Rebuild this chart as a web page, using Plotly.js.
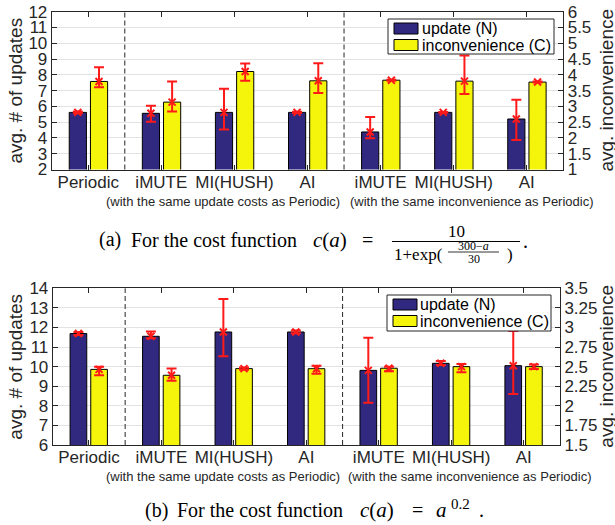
<!DOCTYPE html>
<html>
<head>
<meta charset="utf-8">
<script src="https://cdn.plot.ly/plotly-3.0.1.min.js"></script>
<style>html,body{margin:0;padding:0;background:#fff;} #chart{width:615px;height:525px;}</style>
</head>
<body>
<div id="chart"></div>
<script>
// ---------- data ----------
const categories = ['Periodic', 'iMUTE', 'MI(HUSH)', 'AI', 'iMUTE', 'MI(HUSH)', 'AI'];
const groups = ['base', 'cost', 'cost', 'cost', 'inc', 'inc', 'inc'];

// (a) sigmoid cost function
const a_update     = [5.62, 5.56, 5.62, 5.62, 4.38, 5.62, 5.20];
const a_update_hi  = [5.67, 6.04, 7.12, 5.66, 5.33, 5.65, 6.42];
const a_update_lo  = [5.57, 5.03, 4.53, 5.58, 3.98, 5.59, 3.87];
const a_incon      = [3.79, 3.135, 4.105, 3.81, 3.83, 3.80, 3.77];
const a_incon_hi   = [4.24, 3.79, 4.36, 4.37, 3.845, 4.61, 3.785];
const a_incon_lo   = [3.61, 2.84, 3.81, 3.42, 3.815, 3.39, 3.755];

// (b) power cost function
const b_update     = [11.69, 11.55, 11.77, 11.77, 9.81, 10.17, 10.05];
const b_update_hi  = [11.77, 11.79, 13.46, 11.84, 11.48, 10.29, 11.82];
const b_update_lo  = [11.62, 11.45, 10.53, 11.70, 8.16, 10.09, 8.60];
const b_incon      = [2.465, 2.39, 2.475, 2.474, 2.48, 2.50, 2.50];
const b_incon_hi   = [2.50, 2.475, 2.49, 2.51, 2.50, 2.534, 2.526];
const b_incon_lo   = [2.39, 2.32, 2.46, 2.41, 2.44, 2.428, 2.47];

const seriesNames = ['update (N)', 'inconvenience (C)'];
const subtitles = ['(with the same update costs as Periodic)', '(with the same inconvenience as Periodic)'];

// ---------- style ----------
const BLUE = '#31297f', YELLOW = '#f5f50c', RED = '#ff1a1a', INK = '#262626';
const W = 615, H = 525;
const idx = categories.map((_, i) => i);
const dividers = [];
for (let i = 1; i < groups.length; i++) if (groups[i] !== groups[i - 1]) dividers.push(i - 0.5);

function px(x) { return x / W; }
function py(y) { return 1 - y / H; }

function panel(xa, yl, yr, upd, updHi, updLo, inc, incHi, incLo, barW, offN, offC) {
  const traces = [];
  traces.push({
    type: 'bar', x: idx, y: upd, xaxis: xa, yaxis: yl, width: barW, offset: offN,
    marker: {color: BLUE, line: {color: '#000', width: 1}}, name: seriesNames[0], showlegend: false, hoverinfo: 'skip'
  });
  traces.push({
    type: 'bar', x: idx, y: inc, xaxis: xa, yaxis: yr, width: barW, offset: offC,
    marker: {color: YELLOW, line: {color: '#000', width: 1}}, name: seriesNames[1], showlegend: false, hoverinfo: 'skip'
  });
  const mk = (vals, hi, lo, off, ya) => ({
    type: 'scatter', mode: 'markers', x: idx.map(i => i + off + barW / 2), y: vals, xaxis: xa, yaxis: ya,
    marker: {symbol: 'x-thin-open', size: 7, color: RED, line: {color: RED, width: 2}},
    error_y: {type: 'data', symmetric: false,
      array: vals.map((v, i) => hi[i] - v), arrayminus: vals.map((v, i) => v - lo[i]),
      color: RED, thickness: 2, width: 5},
    showlegend: false, hoverinfo: 'skip'
  });
  traces.push(mk(upd, updHi, updLo, offN, yl));
  traces.push(mk(inc, incHi, incLo, offC, yr));
  return traces;
}

const data = [].concat(
  panel('x', 'y', 'y2', a_update, a_update_hi, a_update_lo, a_incon, a_incon_hi, a_incon_lo, 0.235, -0.26, 0.03),
  panel('x2', 'y3', 'y4', b_update, b_update_hi, b_update_lo, b_incon, b_incon_hi, b_incon_lo, 0.23, -0.26, 0.025)
);

const tickFont = {family: 'Liberation Sans, Arial, sans-serif', size: 17, color: INK};
function xAxis(domain, anchor) {
  return {domain: domain, anchor: anchor, range: [-0.5, 6.5], tickvals: idx, ticktext: categories,
    ticks: 'inside', ticklen: 5, tickcolor: INK, showline: true, linecolor: INK, linewidth: 1,
    mirror: 'ticks', showgrid: false, zeroline: false, tickfont: tickFont, fixedrange: true,
    ticklabelstandoff: -3};
}
function yLeft(domain, anchor, range, dtick) {
  return {domain: domain, anchor: anchor, range: range, dtick: dtick, ticks: 'inside', ticklen: 5,
    tickcolor: INK, showline: true, linecolor: INK, linewidth: 1, showgrid: true, gridcolor: '#e3e3e3',
    zeroline: false, tickfont: tickFont, fixedrange: true};
}
function yRight(over, anchor, range, dtick) {
  return {overlaying: over, side: 'right', anchor: anchor, range: range, dtick: dtick, ticks: 'inside',
    ticklen: 5, tickcolor: INK, showline: true, linecolor: INK, linewidth: 1, showgrid: false,
    zeroline: false, tickfont: tickFont, fixedrange: true};
}

const topX = [px(51.7), px(563.3)], topY = [py(169.5), py(11.7)];
const botX = [px(52.7), px(560)], botY = [py(445), py(288.3)];

const shapes = [];
dividers.forEach(d => {
  shapes.push({type: 'line', xref: 'x', yref: 'y domain', x0: d, x1: d, y0: 0, y1: 1, line: {color: INK, width: 1, dash: '5px,3px'}});
  shapes.push({type: 'line', xref: 'x2', yref: 'y3 domain', x0: d, x1: d, y0: 0, y1: 1, line: {color: INK, width: 1, dash: '5px,3px'}});
});
function rect(x0, y0, x1, y1, fill, lw) {
  shapes.push({type: 'rect', xref: 'paper', yref: 'paper', x0: px(x0), x1: px(x1), y0: py(y1), y1: py(y0),
    fillcolor: fill, line: {color: lw ? '#000' : INK, width: 1}, layer: 'above'});
}
// fraction bars in caption (a)
shapes.push({type: 'line', xref: 'paper', yref: 'paper', x0: px(392), x1: px(520), y0: py(241.5), y1: py(241.5), line: {color: '#000', width: 1}});
shapes.push({type: 'line', xref: 'paper', yref: 'paper', x0: px(448), x1: px(499), y0: py(252), y1: py(252), line: {color: '#000', width: 0.8}});

const sans = 'Liberation Sans, Arial, sans-serif';
const serif = 'Liberation Serif, Times New Roman, serif';
const annotations = [];
function ann(text, x, y, size, family, opts) {
  annotations.push(Object.assign({text: text, xref: 'paper', yref: 'paper', x: px(x), y: py(y), showarrow: false,
    xanchor: 'center', yanchor: 'middle', font: {family: family, size: size, color: INK}}, opts || {}));
}
function cap(text, x, y, size, anchor) {
  ann(text, x, y, size, serif, {xanchor: anchor || 'left', font: {family: serif, size: size, color: '#000'}});
}

// legends (drawn as boxes + text)
function legendBox(x0, y0, x1, y1, sw, rows, tx) {
  rect(x0, y0, x1, y1, '#ffffff', false);
  rect(sw[0], rows[0] - 5.5, sw[1], rows[0] + 5.5, BLUE, true);
  rect(sw[0], rows[1] - 5.5, sw[1], rows[1] + 5.5, YELLOW, true);
  ann(seriesNames[0], tx, rows[0], 16, sans, {xanchor: 'left', font: {family: sans, size: 16, color: '#000'}});
  ann(seriesNames[1], tx, rows[1], 16, sans, {xanchor: 'left', font: {family: sans, size: 16, color: '#000'}});
}
legendBox(388, 19, 554, 54, [394, 418], [28.5, 45], 420);
legendBox(387, 295, 551, 331, [393, 417], [304.5, 321], 418);

ann('avg. # of updates', 16, (11.7 + 169.5) / 2, 19, sans, {textangle: -90});
ann('avg. inconvenience', 607, (11.7 + 169.5) / 2, 19, sans, {textangle: -90});
ann('avg. # of updates', 16, (288.3 + 445) / 2, 19, sans, {textangle: -90});
ann('avg. inconvenience', 607, (288.3 + 445) / 2, 19, sans, {textangle: -90});
ann(subtitles[0], 223, 201.5, 13, sans);
ann(subtitles[1], 472, 201.5, 13, sans);
ann(subtitles[0], 223, 476.5, 13, sans);
ann(subtitles[1], 470, 476.5, 13, sans);

// caption (a)
cap('(a)', 97, 240, 20);
cap('For the cost function', 129, 240, 20);
cap('<i>c</i>(<i>a</i>)', 311, 240, 21);
cap('=', 360, 240, 20);
cap('10', 456, 231.5, 17, 'center');
cap('1+exp(', 392, 254, 17);
cap('300−<i>a</i>', 473.5, 246.5, 12, 'center');
cap('30', 473.5, 258.5, 12, 'center');
cap(')', 505, 254, 17);
cap('.', 521, 241, 20);
// caption (b)
cap('(b)', 143, 510, 20);
cap('For the cost function', 175, 510, 20);
cap('<i>c</i>(<i>a</i>)', 358, 510, 21);
cap('=', 410, 510, 20);
cap('<i>a</i>', 434, 510, 21);
cap('0.2', 449, 504, 15);
cap('.', 477, 510, 20);

const layout = {
  width: W, height: H, margin: {l: 0, r: 0, t: 0, b: 0}, paper_bgcolor: '#fff', plot_bgcolor: '#fff',
  font: {family: sans, color: INK},
  xaxis: xAxis(topX, 'y'),
  yaxis: yLeft(topY, 'x', [2, 12], 1),
  yaxis2: yRight('y', 'x', [1, 6], 0.5),
  xaxis2: xAxis(botX, 'y3'),
  yaxis3: yLeft(botY, 'x2', [6, 14], 1),
  yaxis4: yRight('y3', 'x2', [1.5, 3.5], 0.25),
  shapes: shapes,
  annotations: annotations,
  showlegend: false,
  bargap: 0
};

Plotly.newPlot('chart', data, layout, {staticPlot: true, displayModeBar: false});
</script>
</body>
</html>
